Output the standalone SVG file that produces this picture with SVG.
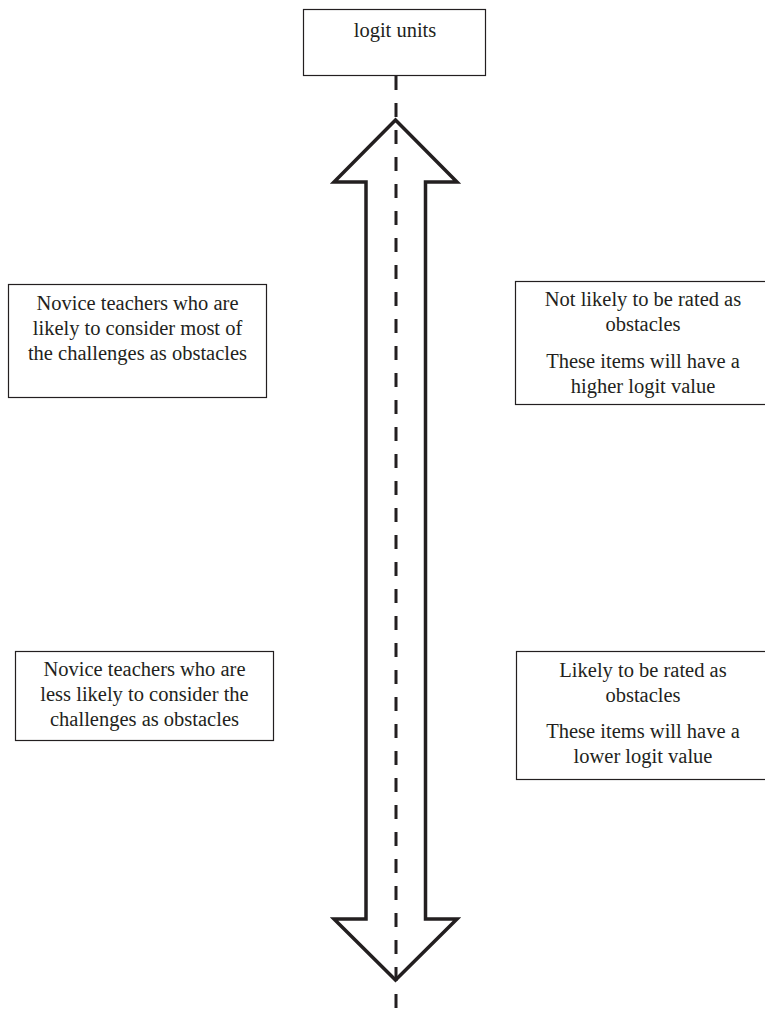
<svg xmlns="http://www.w3.org/2000/svg" width="765" height="1020" viewBox="0 0 765 1020">
<style>
.box{fill:#fff;stroke:#231f20;stroke-width:1.2}
.t{font-family:"Liberation Serif","Times New Roman",serif;font-size:20.5px;fill:#231f20;text-anchor:middle}
.arrow{fill:#fff;stroke:#231f20;stroke-width:3.5;stroke-linejoin:miter}
.dash{stroke:#231f20;stroke-width:3;stroke-dasharray:14 13;fill:none}
</style>
<rect width="765" height="1020" fill="#fff"/>
<g id="top">
<rect class="box" x="303.5" y="9.5" width="182" height="66"/>
<text class="t" x="395" y="37">logit units</text>
</g>
<g id="connectors">
<polygon class="arrow" points="395.5,120 457,182 425.5,182 425.5,919 457,919 395.5,980 334,919 366,919 366,182 334,182"/>
<line class="dash" x1="396" y1="76" x2="396" y2="1020"/>
</g>
<g id="left-top">
<rect class="box" x="8.5" y="284.5" width="258" height="113"/>
<text class="t" x="137.5" y="310">Novice teachers who are</text>
<text class="t" x="137.5" y="335">likely to consider most of</text>
<text class="t" x="137.5" y="360">the challenges as obstacles</text>
</g>
<g id="right-top">
<rect class="box" x="515.5" y="281.5" width="256" height="123"/>
<text class="t" x="643" y="306">Not likely to be rated as</text>
<text class="t" x="643" y="331">obstacles</text>
<text class="t" x="643" y="368">These items will have a</text>
<text class="t" x="643" y="393">higher logit value</text>
</g>
<g id="left-bottom">
<rect class="box" x="15.5" y="651.5" width="258" height="89"/>
<text class="t" x="144.5" y="676">Novice teachers who are</text>
<text class="t" x="144.5" y="701">less likely to consider the</text>
<text class="t" x="144.5" y="726">challenges as obstacles</text>
</g>
<g id="right-bottom">
<rect class="box" x="516.5" y="651.5" width="256" height="128"/>
<text class="t" x="643" y="677">Likely to be rated as</text>
<text class="t" x="643" y="702">obstacles</text>
<text class="t" x="643" y="738">These items will have a</text>
<text class="t" x="643" y="763">lower logit value</text>
</g>
</svg>
